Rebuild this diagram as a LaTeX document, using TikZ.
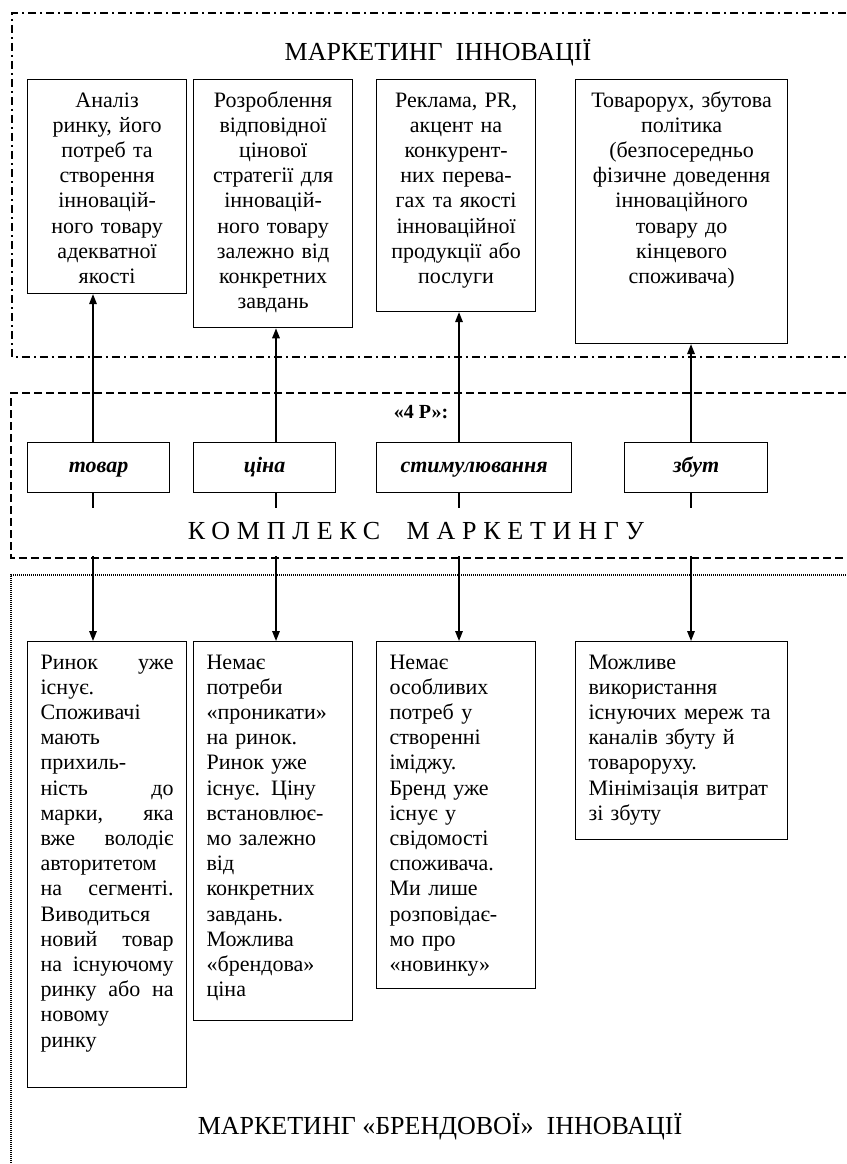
\documentclass[tikz,border=0pt]{standalone}
\usepackage{fontspec}
\setmainfont{Liberation Serif}
\newfontfamily\spacedfont[LetterSpace=26]{Liberation Serif}
\usetikzlibrary{arrows.meta}

\begin{document}
\begin{tikzpicture}[
	x=1pt, y=-1pt,
	every node/.style = {font=\fontsize{22}{25.2}\selectfont},
	box/.style = {draw, line width=1.2pt, anchor=north west, inner ysep=0pt,
		execute at begin node={\rule{0pt}{27.5pt}}},
	up/.style = {box, align=center, inner xsep=6pt, text width=#1},
	low/.style = {box, align=left, inner xsep=13pt, text width=#1},
	tail/.style = {execute at end node={\rule[-#1]{0pt}{0pt}}},
	pbox/.style = {draw, line width=1.2pt, anchor=north west, minimum width=142pt,
		minimum height=50pt, text height=15pt, text depth=5pt,
		font=\fontsize{22}{26}\bfseries\itshape},
	title/.style = {anchor=base, font=\fontsize{26}{30}\selectfont},
	arr/.style = {line width=1.6pt, -{Triangle[length=10pt, width=7.5pt]}},
	dashdot/.style = {line width=1.4pt, dash pattern=on 8pt off 4pt on 2pt off 4pt},
	dashline/.style = {line width=1.4pt, dash pattern=on 8pt off 4pt},
	dotline/.style = {line width=1.6pt, dash pattern=on 1pt off 1pt}
	]
	\useasboundingbox (0,0) rectangle (846,1164);
%
	\draw[dashdot] (846,13) -- (12,13) -- (12,357) -- (846,357);
	\draw[dashline] (846,393) -- (11,393) -- (11,558) -- (846,558);
	\draw[dotline] (846,575) -- (11,575) -- (11,1170);
%
	\node[title] (mi) at (438,61) {МАРКЕТИНГ~~ІННОВАЦІЇ};
%
	\node[up=147, tail=10pt] (a1) at (27,79) {Аналіз\\ ринку, його\\ потреб та\\ створення\\ інновацій-\\ ного товару\\ адекватної\\ якості};
	\node[up=147, tail=19pt] (a2) at (193,79) {Розроблення\\ відповідної\\ цінової\\ стратегії для\\ інновацій-\\ ного товару\\ залежно від\\ конкретних\\ завдань};
	\node[up=147, tail=28pt] (a3) at (376,79) {Реклама, PR,\\ акцент на\\ конкурент-\\ них перева-\\ гах та якості\\ інноваційної\\ продукції або\\ послуги};
	\node[up=200, tail=60pt] (a4) at (575,79) {Товарорух, збутова\\ політика\\ (безпосередньо\\ фізичне доведення\\ інноваційного\\ товару до\\ кінцевого\\ споживача)};
%
	\node[font=\fontsize{20}{24}\bfseries] (fourp) at (421,412) {«4 Р»:};
	\node[pbox] (tovar) at (27,442) {товар};
	\node[pbox] (tsina) at (193,442) {ціна};
	\node[pbox, minimum width=195pt] (stym) at (376,442) {стимулювання};
	\node[pbox, minimum width=143pt] (zbut) at (624,442) {збут};
%
	\node[low=133, tail=40pt] (b1) at (27,641) {Ринок\hfill уже\\ існує.\\ Споживачі\\ мають\\ прихиль-\\ ність\hfill до\\ марки,\hfill яка\\ вже\hfill володіє\\ авторитетом\\ на\hfill сегменті.\\ Виводиться\\ новий\hfill товар\\ на\hfill існуючому\\ ринку\hfill або\hfill на\\ новому\\ ринку};
	\node[low=133, tail=24pt] (b2) at (193,641) {Немає\\ потреби\\ «проникати»\\ на ринок.\\ Ринок уже\\ існує. Ціну\\ встановлює-\\ мо залежно\\ від\\ конкретних\\ завдань.\\ Можлива\\ «брендова»\\ ціна};
	\node[low=133, tail=17pt] (b3) at (376,641) {Немає\\ особливих\\ потреб у\\ створенні\\ іміджу.\\ Бренд уже\\ існує у\\ свідомості\\ споживача.\\ Ми лише\\ розповідає-\\ мо про\\ «новинку»};
	\node[low=186, tail=19pt] (b4) at (575,641) {Можливе\\ використання\\ існуючих мереж та\\ каналів збуту й\\ товароруху.\\ Мінімізація витрат\\ зі збуту};
%
	\coordinate (k1) at (93,0);
	\coordinate (k2) at (276,0);
	\coordinate (k3) at (459,0);
	\coordinate (k4) at (691,0);
%
	\draw[arr] (k1 |- tovar.north) -- (k1 |- a1.south);
	\draw[arr] (k2 |- tsina.north) -- (k2 |- a2.south);
	\draw[arr] (k3 |- stym.north) -- (k3 |- a3.south);
	\draw[arr] (k4 |- zbut.north) -- (k4 |- a4.south);
%
	\draw[arr] (k1 |- tovar.south) -- (k1 |- b1.north);
	\draw[arr] (k2 |- tsina.south) -- (k2 |- b2.north);
	\draw[arr] (k3 |- stym.south) -- (k3 |- b3.north);
	\draw[arr] (k4 |- zbut.south) -- (k4 |- b4.north);
%
	\node[anchor=base, fill=white, minimum width=700pt, text height=23pt, text depth=9pt,
		inner ysep=8pt, font=\fontsize{26}{30}\spacedfont] (km) at (416,539) {КОМПЛЕКС~~МАРКЕТИНГУ};
%
	\node[title] (mb) at (440,1134) {МАРКЕТИНГ «БРЕНДОВОЇ»~~ІННОВАЦІЇ};
\end{tikzpicture}
\end{document}
